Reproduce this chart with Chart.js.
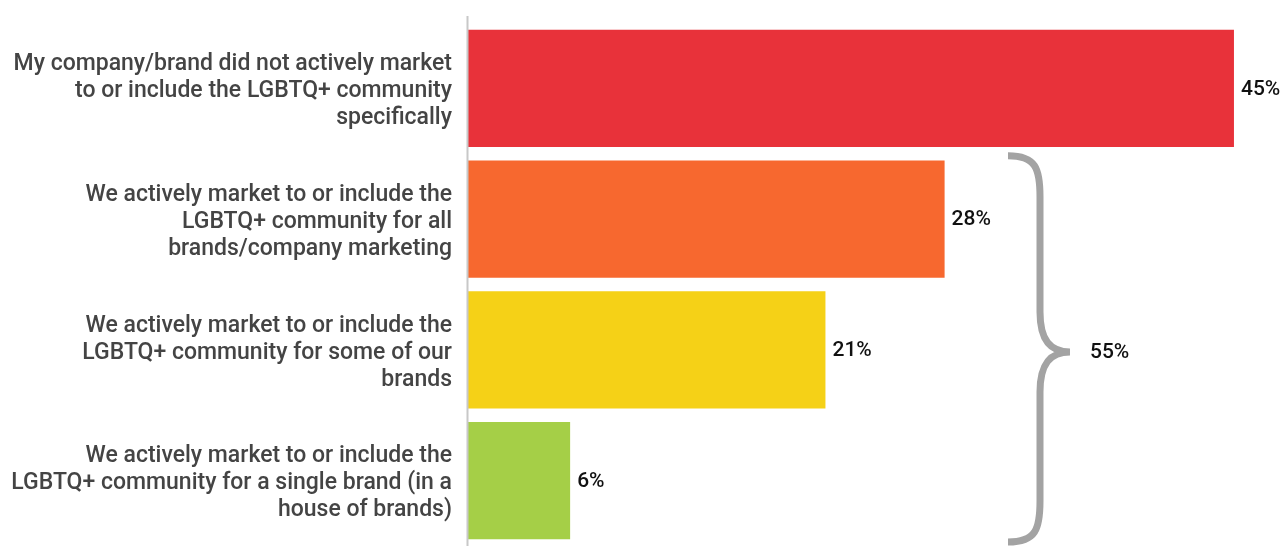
<!DOCTYPE html>
<html lang="en">
<head>
  <meta charset="UTF-8">
  <title>LGBTQ+ marketing</title>
  <script src="https://cdn.jsdelivr.net/npm/chart.js"></script>
  <style>
    html, body { margin: 0; padding: 0; background: #fff; }
    #wrap { width: 1283px; height: 546px; }
  </style>
</head>
<body>
  <div id="wrap"><canvas id="grafico"></canvas></div>

  <script>
    const categories = [
      ["My company/brand did not actively market", "to or include the LGBTQ+ community", "specifically"],
      ["We actively market to or include the", "LGBTQ+ community for all", "brands/company marketing"],
      ["We actively market to or include the", "LGBTQ+ community for some of our", "brands"],
      ["We actively market to or include the", "LGBTQ+ community for a single brand (in a", "house of brands)"]
    ];
    const values = [45, 28, 21, 6];
    const colors = ["#E8323A", "#F7682F", "#F5D117", "#A5CF47"];
    // bars grouped by the brace on the right
    const bracedBars = [1, 2, 3];

    // value labels at the end of each bar + axis line
    const extras = {
      id: "extras",
      afterDatasetsDraw(chart) {
        const ctx = chart.ctx;
        const meta = chart.getDatasetMeta(0);
        const x0 = chart.scales.x.getPixelForValue(0);
        ctx.save();
        ctx.strokeStyle = "#c8c8c8";
        ctx.lineWidth = 2;
        ctx.beginPath();
        ctx.moveTo(x0 - 0.5, 16);
        ctx.lineTo(x0 - 0.5, chart.chartArea.bottom);
        ctx.stroke();

        ctx.font = "500 21px Roboto";
        ctx.fillStyle = "#111";
        ctx.textBaseline = "middle";
        ctx.textAlign = "left";
        meta.data.forEach((bar, i) => {
          ctx.fillText(values[i] + "%", bar.x + 7, bar.y + 1);
        });

        // curly brace around the "actively market" bars
        const y = chart.scales.y;
        const half = (y.getPixelForValue(1) - y.getPixelForValue(0)) / 2;
        const top = meta.data[bracedBars[0]].y - half - 1;
        const bot = Math.min(meta.data[bracedBars[bracedBars.length - 1]].y + half, chart.height - 1);
        const mid = (top + bot) / 2 + 3;
        const xl = 1008, xv = 1040, xt = 1070;
        ctx.strokeStyle = "#a3a3a3";
        ctx.lineWidth = 7;
        ctx.beginPath();
        ctx.moveTo(xl, top + 3);
        ctx.bezierCurveTo(xv - 4, top + 3, xv, top + 16, xv, top + 44);
        ctx.lineTo(xv, mid - 40);
        ctx.bezierCurveTo(xv, mid - 12, xv + 10, mid, xt, mid);
        ctx.bezierCurveTo(xv + 10, mid, xv, mid + 12, xv, mid + 40);
        ctx.lineTo(xv, bot - 44);
        ctx.bezierCurveTo(xv, bot - 16, xv - 4, bot - 3, xl, bot - 3);
        ctx.stroke();

        const total = bracedBars.reduce((s, i) => s + values[i], 0);
        ctx.fillStyle = "#111";
        ctx.fillText(total + "%", 1090, mid + 1);
        ctx.restore();
      }
    };

    const ctx = document.getElementById("grafico").getContext("2d");
    new Chart(ctx, {
      type: "bar",
      data: {
        labels: categories,
        datasets: [{
          data: values,
          backgroundColor: colors,
          categoryPercentage: 1,
          barPercentage: 0.895
        }]
      },
      options: {
        indexAxis: "y",
        responsive: true,
        maintainAspectRatio: false,
        animation: false,
        layout: { padding: { top: 23, right: 15, bottom: 0, left: 0 } },
        plugins: {
          legend: { display: false },
          tooltip: { enabled: false }
        },
        scales: {
          x: { display: false, min: 0, max: 47 },
          y: {
            grid: { display: false, drawTicks: false },
            border: { display: false },
            afterFit(scale) {
              scale.width = 468;
              scale.paddingTop = 0;
              scale.paddingBottom = 0;
            },
            ticks: {
              padding: 16,
              labelOffset: 3,
              color: "#444",
              font: { family: "Roboto", size: 23, weight: "500", lineHeight: 1.174 }
            }
          }
        }
      },
      plugins: [extras]
    });
  </script>
</body>
</html>
